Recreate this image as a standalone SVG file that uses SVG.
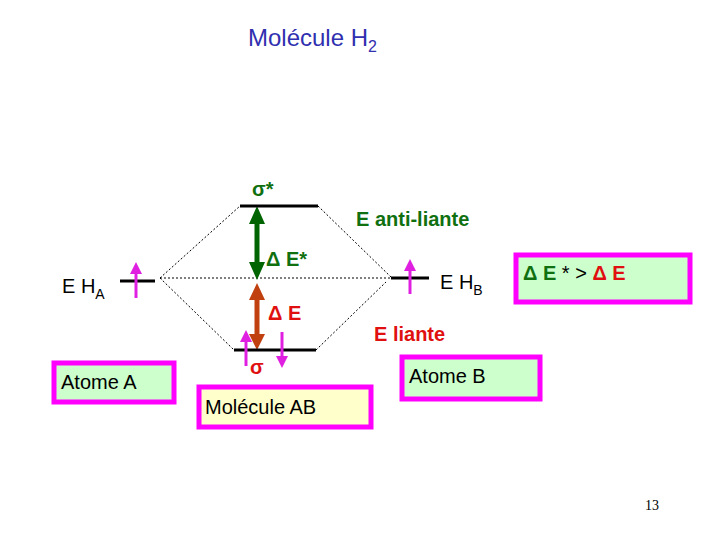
<svg xmlns="http://www.w3.org/2000/svg" width="720" height="540" viewBox="0 0 720 540">
<style>
text{font-family:"Liberation Sans",Arial,sans-serif;font-weight:bold}
.lvl{stroke:#000;stroke-width:3}
.dot{stroke:#000;stroke-width:1;stroke-dasharray:2 2;fill:none}
.box{stroke:#ff00ff;stroke-width:5}
.e{stroke:#e020e0;stroke-width:3}
.g{fill:#107010}.r{fill:#e01010}
</style>
<defs>
<marker id="pk" markerWidth="4" markerHeight="4" refX="2" refY="2" orient="auto"><path d="M0,0L4,2L0,4z" fill="#e020e0"/></marker>
</defs>
<rect width="720" height="540" fill="#fff"/>
<text x="248" y="46" font-size="24" font-weight="normal" fill="#3030b0" style="font-weight:normal">Molécule H<tspan font-size="16" dy="6">2</tspan></text>
<g id="connectors">
<line class="dot" x1="160" y1="278" x2="392" y2="278" stroke-dasharray="5 3"/>
<path class="dot" d="M160,278L240,206M160,278L234,350M318,206L392,278M316,350L386,282"/>
<line x1="257" y1="222" x2="257" y2="264" stroke="#006400" stroke-width="5"/>
<path d="M257,206L249,224L265,224zM257,280L249,262L265,262z" fill="#006400"/>
<line x1="257" y1="298" x2="257" y2="336" stroke="#c04010" stroke-width="5"/>
<path d="M257,283L249,300L265,300zM257,350L249,334L265,334z" fill="#c04010"/>
</g>
<g id="sigmastar"><line class="lvl" x1="240" y1="206" x2="318" y2="206"/><text x="252" y="196" font-size="20" class="g">σ*</text></g>
<g id="sigma"><line class="lvl" x1="234" y1="350" x2="316" y2="350"/><text x="250" y="374" font-size="20" class="r">σ</text>
<line class="e" x1="246" y1="366" x2="246" y2="336" marker-end="url(#pk)"/><line class="e" x1="282" y1="332" x2="282" y2="362" marker-end="url(#pk)"/></g>
<g id="HA"><line class="lvl" x1="120" y1="281" x2="155" y2="281"/><line class="e" x1="136" y1="298" x2="136" y2="268" marker-end="url(#pk)"/><text x="62" y="293" font-size="20" style="font-weight:normal" fill="#000">E H<tspan font-size="14" dy="6">A</tspan></text></g>
<g id="HB"><line class="lvl" x1="391" y1="278" x2="429" y2="278"/><line class="e" x1="410" y1="294" x2="410" y2="265" marker-end="url(#pk)"/><text x="440" y="289" font-size="20" style="font-weight:normal" fill="#000">E H<tspan font-size="14" dy="6">B</tspan></text></g>
<g id="labels">
<text x="266" y="266" font-size="20" class="g">Δ  E*</text>
<text x="268" y="320" font-size="20" class="r">Δ  E</text>
<text x="356" y="226" font-size="20" class="g">E anti-liante</text>
<text x="374" y="341" font-size="20" class="r">E liante</text>
</g>
<g id="cmp"><rect class="box" x="516" y="255" width="174" height="47" fill="#ccffcc"/><text x="523" y="280" font-size="20"><tspan class="g">Δ  E</tspan><tspan fill="#000" font-weight="normal"> * &gt; </tspan><tspan class="r">Δ  E</tspan></text></g>
<g id="atomeA"><rect class="box" x="54" y="363" width="120" height="39" fill="#ccffcc"/><text x="61" y="389" font-size="20" fill="#000" style="font-weight:normal">Atome A</text></g>
<g id="molAB"><rect class="box" x="199" y="387" width="172" height="40" fill="#ffffcc"/><text x="205" y="414" font-size="20" fill="#000" style="font-weight:normal">Molécule AB</text></g>
<g id="atomeB"><rect class="box" x="402" y="357" width="138" height="42" fill="#ccffcc"/><text x="409" y="383" font-size="20" fill="#000" style="font-weight:normal">Atome B</text></g>
<text x="645" y="510" font-size="14" style="font-family:'Liberation Serif',serif;font-weight:normal">13</text>
</svg>
